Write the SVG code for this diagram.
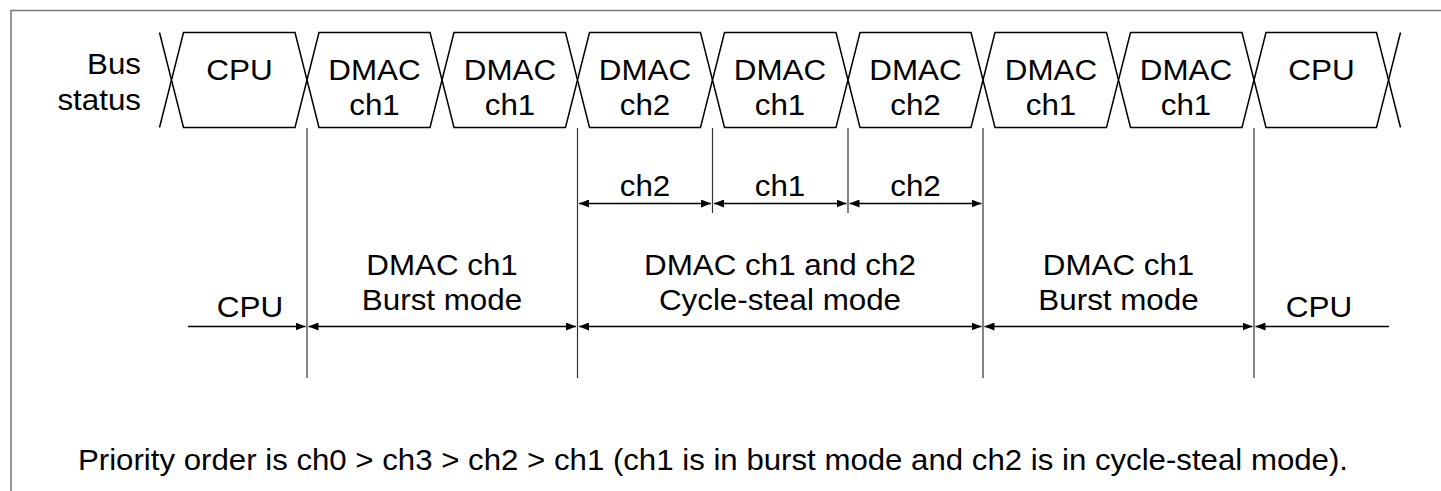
<svg xmlns="http://www.w3.org/2000/svg" width="1441" height="491" viewBox="0 0 1441 491">
  <style>
    text { font-family: "Liberation Sans", Arial, sans-serif; font-size: 30px; fill: #000; }
    .c { text-anchor: middle; }
    .e { text-anchor: end; }
    .bus { fill: #fff; stroke: #000; stroke-width: 1.5; stroke-linejoin: miter; }
    .wire { fill: none; stroke: #000; stroke-width: 1.5; }
    .guide { fill: none; stroke: #333; stroke-width: 1.2; }
    .arr { fill: none; stroke: #000; stroke-width: 1.5; }
    .frame { fill: none; stroke: #777; stroke-width: 1.5; }
  </style>
  <defs>
    <marker id="ah" markerUnits="userSpaceOnUse" markerWidth="10" markerHeight="8" refX="10" refY="4" orient="auto-start-reverse" viewBox="0 0 10 8">
      <path d="M0,0 L10,4 L0,8 Z" fill="#000"/>
    </marker>
  </defs>
  <rect width="1441" height="491" fill="#fff"/>
  <path class="frame" d="M11,491 V10.5 H1441"/>

  <g id="label-bus-status">
    <text class="e" x="141" y="74" textLength="54" lengthAdjust="spacingAndGlyphs">Bus</text>
    <text class="e" x="141" y="110" textLength="83.6" lengthAdjust="spacingAndGlyphs">status</text>
  </g>

  <g id="bus-edges">
    <path class="wire" d="M159.5,32.5 L171.5,80 L159.5,127.5"/>
    <path class="wire" d="M1400.5,32.5 L1388.5,80 L1400.5,127.5"/>
  </g>

  <g id="slot1">
    <polygon class="bus" points="183.5,32.5 295,32.5 307,80 295,127.5 183.5,127.5 171.5,80"/>
    <text class="c" x="239.5" y="80" textLength="66.5" lengthAdjust="spacingAndGlyphs">CPU</text>
  </g>
  <g id="slot2">
    <polygon class="bus" points="319,32.5 430,32.5 442,80 430,127.5 319,127.5 307,80"/>
    <text class="c" x="374.5" y="80" textLength="92.3" lengthAdjust="spacingAndGlyphs">DMAC</text>
    <text class="c" x="374.5" y="115" textLength="50.5" lengthAdjust="spacingAndGlyphs">ch1</text>
  </g>
  <g id="slot3">
    <polygon class="bus" points="454,32.5 565.5,32.5 577.5,80 565.5,127.5 454,127.5 442,80"/>
    <text class="c" x="510" y="80" textLength="92.3" lengthAdjust="spacingAndGlyphs">DMAC</text>
    <text class="c" x="510" y="115" textLength="50.5" lengthAdjust="spacingAndGlyphs">ch1</text>
  </g>
  <g id="slot4">
    <polygon class="bus" points="589.5,32.5 700.5,32.5 712.5,80 700.5,127.5 589.5,127.5 577.5,80"/>
    <text class="c" x="645" y="80" textLength="92.3" lengthAdjust="spacingAndGlyphs">DMAC</text>
    <text class="c" x="645" y="115" textLength="50.5" lengthAdjust="spacingAndGlyphs">ch2</text>
  </g>
  <g id="slot5">
    <polygon class="bus" points="724.5,32.5 836,32.5 848,80 836,127.5 724.5,127.5 712.5,80"/>
    <text class="c" x="780" y="80" textLength="92.3" lengthAdjust="spacingAndGlyphs">DMAC</text>
    <text class="c" x="780" y="115" textLength="50.5" lengthAdjust="spacingAndGlyphs">ch1</text>
  </g>
  <g id="slot6">
    <polygon class="bus" points="860,32.5 971,32.5 983,80 971,127.5 860,127.5 848,80"/>
    <text class="c" x="915.5" y="80" textLength="92.3" lengthAdjust="spacingAndGlyphs">DMAC</text>
    <text class="c" x="915.5" y="115" textLength="50.5" lengthAdjust="spacingAndGlyphs">ch2</text>
  </g>
  <g id="slot7">
    <polygon class="bus" points="995,32.5 1106.5,32.5 1118.5,80 1106.5,127.5 995,127.5 983,80"/>
    <text class="c" x="1051" y="80" textLength="92.3" lengthAdjust="spacingAndGlyphs">DMAC</text>
    <text class="c" x="1051" y="115" textLength="50.5" lengthAdjust="spacingAndGlyphs">ch1</text>
  </g>
  <g id="slot8">
    <polygon class="bus" points="1130.5,32.5 1242,32.5 1254,80 1242,127.5 1130.5,127.5 1118.5,80"/>
    <text class="c" x="1186" y="80" textLength="92.3" lengthAdjust="spacingAndGlyphs">DMAC</text>
    <text class="c" x="1186" y="115" textLength="50.5" lengthAdjust="spacingAndGlyphs">ch1</text>
  </g>
  <g id="slot9">
    <polygon class="bus" points="1266,32.5 1376.5,32.5 1388.5,80 1376.5,127.5 1266,127.5 1254,80"/>
    <text class="c" x="1321.5" y="80" textLength="66.5" lengthAdjust="spacingAndGlyphs">CPU</text>
  </g>

  <g id="guides">
    <path class="guide" d="M307,128 V378 M577.5,128 V378 M712.5,128 V213 M848,128 V213 M983,128 V378 M1254,128 V378"/>
  </g>

  <g id="connectors">
    <line class="arr" x1="579" y1="203.5" x2="711" y2="203.5" marker-start="url(#ah)" marker-end="url(#ah)"/>
    <line class="arr" x1="714" y1="203.5" x2="846.5" y2="203.5" marker-start="url(#ah)" marker-end="url(#ah)"/>
    <line class="arr" x1="849.5" y1="203.5" x2="981.5" y2="203.5" marker-start="url(#ah)" marker-end="url(#ah)"/>
    <line class="arr" x1="188" y1="326.5" x2="305.5" y2="326.5" marker-end="url(#ah)"/>
    <line class="arr" x1="308.5" y1="326.5" x2="576" y2="326.5" marker-start="url(#ah)" marker-end="url(#ah)"/>
    <line class="arr" x1="579" y1="326.5" x2="981.5" y2="326.5" marker-start="url(#ah)" marker-end="url(#ah)"/>
    <line class="arr" x1="984.5" y1="326.5" x2="1252.5" y2="326.5" marker-start="url(#ah)" marker-end="url(#ah)"/>
    <line class="arr" x1="1255.5" y1="326.5" x2="1389" y2="326.5" marker-start="url(#ah)"/>
  </g>

  <g id="labels-cycles">
    <text class="c" x="645" y="196" textLength="50.5" lengthAdjust="spacingAndGlyphs">ch2</text>
    <text class="c" x="780" y="196" textLength="50.5" lengthAdjust="spacingAndGlyphs">ch1</text>
    <text class="c" x="915.5" y="196" textLength="50.5" lengthAdjust="spacingAndGlyphs">ch2</text>
  </g>

  <g id="labels-modes">
    <text class="c" x="250" y="317" textLength="66.5" lengthAdjust="spacingAndGlyphs">CPU</text>
    <text class="c" x="442" y="275" textLength="151.5" lengthAdjust="spacingAndGlyphs">DMAC ch1</text>
    <text class="c" x="442" y="310" textLength="160.3" lengthAdjust="spacingAndGlyphs">Burst mode</text>
    <text class="c" x="780" y="275" textLength="271.8" lengthAdjust="spacingAndGlyphs">DMAC ch1 and ch2</text>
    <text class="c" x="780" y="310" textLength="242.1" lengthAdjust="spacingAndGlyphs">Cycle-steal mode</text>
    <text class="c" x="1118.5" y="275" textLength="151.5" lengthAdjust="spacingAndGlyphs">DMAC ch1</text>
    <text class="c" x="1118.5" y="310" textLength="160.3" lengthAdjust="spacingAndGlyphs">Burst mode</text>
    <text class="c" x="1319" y="317" textLength="66.5" lengthAdjust="spacingAndGlyphs">CPU</text>
  </g>

  <g id="note">
    <text x="78" y="470" textLength="1270" lengthAdjust="spacingAndGlyphs">Priority order is ch0 &gt; ch3 &gt; ch2 &gt; ch1 (ch1 is in burst mode and ch2 is in cycle-steal mode).</text>
  </g>
</svg>
